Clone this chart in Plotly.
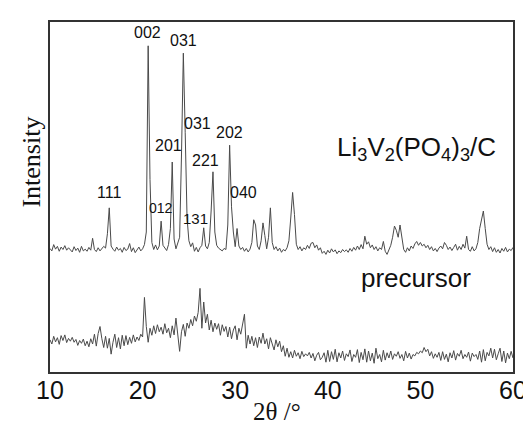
import plotly.graph_objects as go

# 2-theta grid (degrees), step 0.2 from 10 to 60
two_theta = [round(10 + 0.2 * i, 1) for i in range(251)]

# Li3V2(PO4)3/C pattern (relative intensity)
lvp_c = [
    35.3, 34.6, 36.4, 35.1, 35.9, 34.5, 35.7, 35.0, 36.1, 34.8,
    35.5, 35.0, 34.3, 35.8, 34.7, 35.4, 34.2, 35.9, 34.6, 35.1,
    34.5, 35.6, 34.8, 38.2, 35.0, 34.4, 35.5, 34.6, 35.2, 35.9,
    35.4, 39.5, 46.9, 36.0, 35.1, 34.5, 35.7, 34.8, 35.3, 34.2,
    35.6, 34.7, 35.1, 36.7, 34.4, 35.5, 34.1, 35.0, 35.7, 34.6,
    35.2, 36.4, 40.0, 93.2, 55.0, 37.0, 35.0, 36.3, 34.9, 36.0,
    43.1, 36.2, 35.4, 34.7, 36.4, 41.0, 60.0, 38.0, 35.2, 36.6,
    38.5, 62.0, 91.1, 68.5, 44.0, 37.5, 35.8, 36.9, 34.5, 35.6,
    34.3, 35.5, 36.2, 41.2, 36.0, 35.2, 37.0, 46.0, 57.2, 40.0,
    36.2, 35.4, 35.0, 34.6, 35.3, 35.0, 42.0, 64.8, 47.2, 40.0,
    35.8, 41.0, 36.0, 35.0, 35.6, 34.5, 35.3, 34.3, 35.1, 37.0,
    43.5, 42.0, 36.0, 35.0, 37.5, 42.6, 39.0, 35.2, 38.5, 46.9,
    37.0, 35.0, 35.8, 34.6, 35.4, 34.2, 35.0, 34.6, 35.5, 37.5,
    44.0, 51.3, 45.0, 36.5, 35.0, 35.8, 34.6, 35.5, 35.0, 36.2,
    35.3, 36.8, 37.0, 35.5, 36.3, 34.8, 35.5, 33.9, 34.5, 33.6,
    34.8, 34.0, 35.2, 34.3, 34.9, 33.8, 34.6, 34.1, 35.0, 34.4,
    34.9, 34.2, 35.3, 34.5, 35.6, 34.8, 36.0, 35.0, 36.4, 35.2,
    38.8, 36.5, 37.2, 35.5, 36.3, 35.0, 35.8, 34.6, 35.5, 35.0,
    37.3, 34.5, 33.6, 35.0, 36.2, 38.5, 41.7, 40.5, 38.5, 42.0,
    38.0, 35.0, 34.2, 35.5, 34.6, 36.0, 35.3, 36.6, 37.3, 36.2,
    37.0, 36.0, 36.5, 35.5, 36.2, 35.0, 35.8, 34.6, 35.3, 34.4,
    35.4, 36.0, 35.2, 37.0, 36.2, 35.0, 35.7, 34.7, 35.6, 36.5,
    34.8, 35.9, 35.0, 36.5, 35.4, 38.8, 35.0, 34.5, 35.8, 34.6,
    35.2, 37.0, 41.0, 44.0, 46.0, 41.0, 36.5, 35.0, 35.8, 34.4,
    35.5, 34.2, 35.0, 34.0, 35.3, 34.5, 35.6, 34.3, 35.1, 34.7,
    35.6,
]

# precursor pattern
precursor = [
    9.2, 8.0, 10.2, 8.6, 9.8, 7.9, 10.4, 9.0, 10.6, 8.4,
    9.6, 8.8, 9.9, 8.5, 9.3, 7.6, 9.0, 8.2, 9.4, 7.5,
    8.8, 7.2, 9.5, 8.0, 10.8, 7.4, 11.0, 13.0, 9.5, 7.0,
    10.2, 6.8, 9.6, 5.1, 8.5, 10.8, 7.0, 9.8, 6.6, 10.5,
    7.5, 10.4, 7.8, 9.9, 8.2, 10.6, 8.6, 10.0, 9.0, 10.8,
    10.0, 21.3, 13.0, 8.5, 12.5, 10.5, 13.2, 11.0, 13.5, 11.5,
    12.8, 10.8, 13.8, 11.2, 12.5, 9.8, 13.2, 10.6, 15.4, 11.0,
    5.9, 11.5, 13.6, 10.2, 14.0, 12.5, 15.0, 13.2, 16.0, 14.5,
    17.0, 23.9, 12.5, 20.0, 14.0, 16.5, 12.0, 14.8, 11.5, 14.0,
    12.2, 13.8, 10.5, 13.5, 11.6, 13.0, 10.0, 12.8, 9.5, 12.0,
    13.2, 9.2, 12.5, 10.8, 14.2, 16.5, 6.8, 10.5, 8.0, 10.2,
    7.5, 9.8, 7.0, 10.0, 8.2, 11.1, 8.0, 9.5, 6.6, 9.8,
    8.0, 6.3, 9.2, 7.2, 8.8, 5.8, 7.5, 4.5, 6.8, 4.2,
    5.8, 4.0, 6.2, 4.5, 5.5, 3.8, 5.9, 4.4, 5.2, 4.6,
    5.6, 4.0, 5.3, 3.2, 4.8, 5.6, 3.5, 4.2, 5.5, 2.8,
    6.2, 3.0, 5.8, 3.6, 6.5, 2.9, 5.5, 4.0, 6.0, 3.3,
    5.2, 4.4, 6.3, 3.0, 5.0, 4.2, 6.4, 2.7, 5.6, 3.5,
    6.6, 2.8, 6.0, 3.2, 5.4, 2.5, 6.8, 3.8, 5.0, 2.9,
    6.2, 3.4, 5.5, 4.0, 6.0, 3.6, 5.2, 4.5, 5.8, 3.9,
    5.0, 3.2, 5.9, 4.0, 5.4, 3.7, 5.0, 4.6, 5.6, 5.2,
    6.0, 5.5, 7.0, 5.8, 6.5, 4.6, 5.8, 3.9, 5.2, 4.2,
    5.6, 3.3, 5.8, 3.6, 5.1, 2.9, 5.5, 4.0, 6.1, 3.4,
    5.3, 4.5, 6.2, 3.8, 5.0, 4.2, 5.7, 3.1, 5.4, 4.4,
    5.0, 3.6, 6.0, 2.8, 6.4, 3.2, 5.6, 4.6, 6.8, 4.0,
    6.5, 3.5, 5.2, 6.8, 3.0, 6.0, 2.6, 5.4, 3.8, 5.9,
    4.0,
]

# peak index labels: (text, 2theta, y, font size)
peak_labels = ["002", "031", "031", "202", "201", "221", "111", "040", "012", "131"]
peak_x = [20.58, 24.45, 25.9, 29.43, 22.84, 26.8, 16.4, 30.88, 22.03, 25.73]
peak_y = [97.0, 94.7, 71.1, 68.5, 64.6, 60.3, 51.2, 51.2, 46.9, 43.9]
peak_size = [16, 16, 16, 16, 16, 16, 16, 16, 14, 15]

x_ticks = [10, 20, 30, 40, 50, 60]

fig = go.Figure()
fig.add_trace(go.Scatter(x=two_theta, y=lvp_c, mode="lines",
                         line=dict(color="#4a4a4a", width=1), showlegend=False))
fig.add_trace(go.Scatter(x=two_theta, y=precursor, mode="lines",
                         line=dict(color="#4a4a4a", width=1), showlegend=False))

sans = "Liberation Sans, Arial, sans-serif"
serif = "Liberation Serif, Times New Roman, serif"

for t, xx, yy, fs in zip(peak_labels, peak_x, peak_y, peak_size):
    fig.add_annotation(x=xx, y=yy, text=t, showarrow=False, xref="x", yref="y",
                       font=dict(family=sans, size=fs, color="#111"))

fig.add_annotation(x=49.6, y=63.8, text="Li<sub>3</sub>V<sub>2</sub>(PO<sub>4</sub>)<sub>3</sub>/C",
                   showarrow=False, xref="x", yref="y",
                   font=dict(family=sans, size=26, color="#111"))
fig.add_annotation(x=49.5, y=27.0, text="precursor", showarrow=False, xref="x", yref="y",
                   font=dict(family=sans, size=26, color="#111"))
fig.add_annotation(x=-0.042, y=0.6, text="Intensity", textangle=-90, showarrow=False,
                   xref="paper", yref="paper", xanchor="center", yanchor="middle",
                   font=dict(family=serif, size=26, color="#111"))
fig.add_annotation(x=0.49, y=-0.114, text="2θ /°", showarrow=False,
                   xref="paper", yref="paper", xanchor="center", yanchor="middle",
                   borderpad=0,
                   font=dict(family=serif, size=25, color="#111"))

fig.update_xaxes(range=[10, 60], tickvals=x_ticks, ticks="", showgrid=False, zeroline=False,
                 showline=True, linecolor="#333", linewidth=2, mirror=True,
                 ticklabelstandoff=-5,
                 tickfont=dict(family=sans, size=25, color="#111"))
fig.update_yaxes(range=[0, 100], showticklabels=False, ticks="", showgrid=False, zeroline=False,
                 showline=True, linecolor="#333", linewidth=2, mirror=True)

fig.update_layout(width=531, height=425, margin=dict(l=42, r=17, t=13, b=61),
                  plot_bgcolor="white", paper_bgcolor="white")

fig.write_html("out.html")
